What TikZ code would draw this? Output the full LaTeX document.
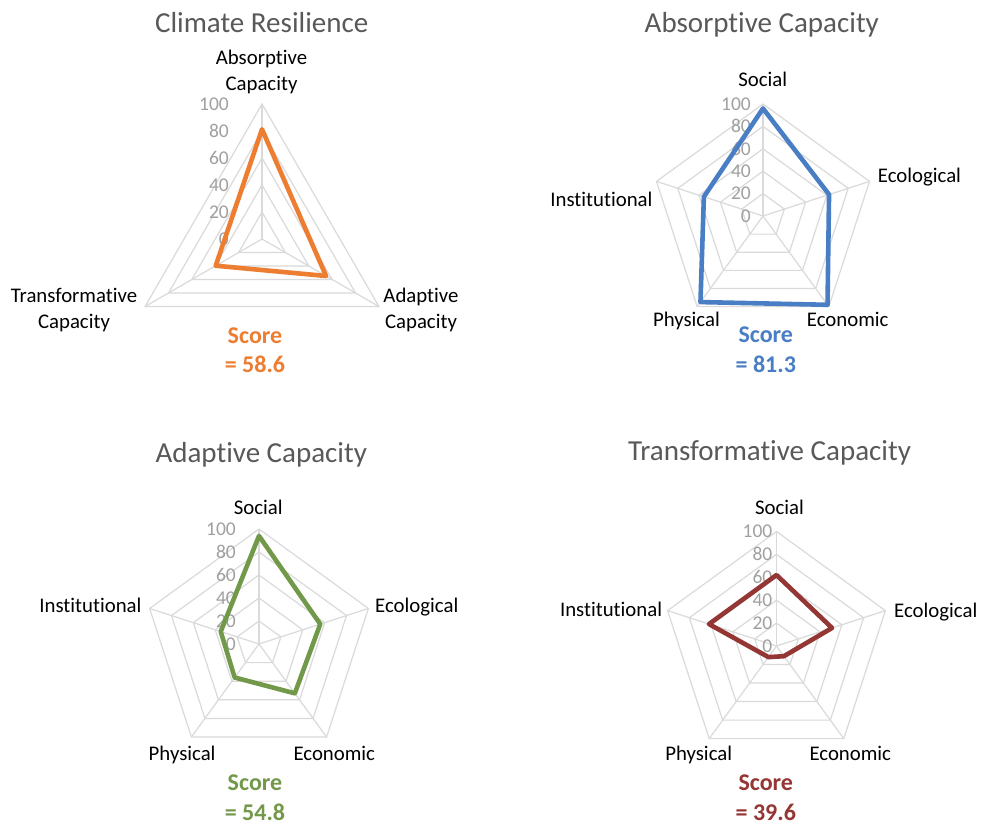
\documentclass[tikz,border=0pt]{standalone}
\usepackage{fontspec}
\setmainfont{Carlito}[Ligatures={NoCommon}]
\usetikzlibrary{positioning}
\definecolor{webgray}{HTML}{DADADA}
\definecolor{ticktext}{HTML}{A0A0A0}
\definecolor{titletext}{HTML}{595959}
\definecolor{crorange}{HTML}{ED7D31}
\definecolor{acblue}{HTML}{4A7EC4}
\definecolor{adgreen}{HTML}{72994A}
\definecolor{trred}{HTML}{943634}

\begin{document}
\begin{tikzpicture}[x=1pt,y=-1pt,
    web/.style={draw=webgray,line width=1.2pt},
    datline/.style={line width=4.6pt,line join=round},
    charttitle/.style={text=titletext,font=\fontsize{29}{35}\selectfont,inner sep=0pt,anchor=base},
    axlbl/.style={font=\fontsize{20.8}{26}\selectfont,inner sep=0pt},
    ticklbl/.style={text=ticktext,font=\fontsize{19.5}{23}\selectfont,inner sep=0pt,anchor=east},
    scorelbl/.style={font=\bfseries\fontsize{24}{29.5}\selectfont,inner sep=0pt,align=center,anchor=base}]
\fill[white] (0,0) rectangle (983,825);
\useasboundingbox (0,0) rectangle (983,825);

% Climate Resilience
\node[charttitle] (cr-title) at (261.7,32.3) {Climate Resilience};
\begin{scope}[shift={(262,239)}]
  \def\R{135}
  \foreach \k in {1,...,5}
    \draw[web] (-90:{\k*\R/5}) -- (30:{\k*\R/5}) -- (150:{\k*\R/5}) -- cycle;
  \foreach \a in {-90,30,150}
    \draw[web] (0,0) -- (\a:\R);
  \foreach \v in {0,20,...,100}
    \node[ticklbl] (cr-t\v) at (-33,{-\v*\R/100}) {\v};
  \draw[datline,crorange] (-90:{0.813*\R}) -- (30:{0.548*\R}) -- (150:{0.396*\R}) -- cycle;
\end{scope}
\node[axlbl,align=center,anchor=base] (cr-abs) at (261.5,90) {Absorptive\\Capacity};
\node[axlbl,align=center,anchor=base] (cr-adp) at (421,328.3) {Adaptive\\Capacity};
\node[axlbl,align=center,anchor=base] (cr-trf) at (74,328.3) {Transformative\\Capacity};
\node[scorelbl,text=crorange] (cr-score) at (255,372.5) {Score\\= 58.6};

% Absorptive Capacity
\node[charttitle] (ac-title) at (761.8,32.3) {Absorptive Capacity};
\begin{scope}[shift={(763,216)}]
  \def\R{112}
  \foreach \k in {1,...,5}
    \draw[web] (-90:{\k*\R/5}) -- (-18:{\k*\R/5}) -- (54:{\k*\R/5}) -- (126:{\k*\R/5}) -- (198:{\k*\R/5}) -- cycle;
  \foreach \a in {-90,-18,54,126,198}
    \draw[web] (0,0) -- (\a:\R);
  \foreach \v in {0,20,...,100}
    \node[ticklbl] (ac-t\v) at (-12,{-\v*\R/100}) {\v};
  \draw[datline,acblue] (-90:{0.96*\R}) -- (-18:{0.62*\R}) -- (54:{0.98*\R}) -- (126:{0.95*\R}) -- (198:{0.555*\R}) -- cycle;
\end{scope}
\node[axlbl,anchor=base] (ac-soc) at (762.8,86) {Social};
\node[axlbl,anchor=base west] (ac-eco) at (877.7,182.7) {Ecological};
\node[axlbl,anchor=base west] (ac-ecn) at (806.7,326.7) {Economic};
\node[axlbl,anchor=base east] (ac-phy) at (720,326.7) {Physical};
\node[axlbl,anchor=base east] (ac-ins) at (652.7,206.7) {Institutional};
\node[scorelbl,text=acblue] (ac-score) at (765.8,372.3) {Score\\= 81.3};

% Adaptive Capacity
\node[charttitle] (ad-title) at (261.3,462.7) {Adaptive Capacity};
\begin{scope}[shift={(259,644)}]
  \def\R{115}
  \foreach \k in {1,...,5}
    \draw[web] (-90:{\k*\R/5}) -- (-18:{\k*\R/5}) -- (54:{\k*\R/5}) -- (126:{\k*\R/5}) -- (198:{\k*\R/5}) -- cycle;
  \foreach \a in {-90,-18,54,126,198}
    \draw[web] (0,0) -- (\a:\R);
  \foreach \v in {0,20,...,100}
    \node[ticklbl] (ad-t\v) at (-23,{-\v*\R/100}) {\v};
  \draw[datline,adgreen] (-90:{0.94*\R}) -- (-18:{0.56*\R}) -- (54:{0.53*\R}) -- (126:{0.36*\R}) -- (198:{0.35*\R}) -- cycle;
\end{scope}
\node[axlbl,anchor=base] (ad-soc) at (258.3,514) {Social};
\node[axlbl,anchor=base west] (ad-eco) at (375,612.3) {Ecological};
\node[axlbl,anchor=base west] (ad-ecn) at (293.3,760) {Economic};
\node[axlbl,anchor=base east] (ad-phy) at (215.7,760) {Physical};
\node[axlbl,anchor=base east] (ad-ins) at (141.7,612.3) {Institutional};
\node[scorelbl,text=adgreen] (ad-score) at (255,820) {Score\\= 54.8};

% Transformative Capacity
\node[charttitle] (tr-title) at (769.5,460) {Transformative Capacity};
\begin{scope}[shift={(776.5,646)}]
  \def\R{114.5}
  \foreach \k in {1,...,5}
    \draw[web] (-90:{\k*\R/5}) -- (-18:{\k*\R/5}) -- (54:{\k*\R/5}) -- (126:{\k*\R/5}) -- (198:{\k*\R/5}) -- cycle;
  \foreach \a in {-90,-18,54,126,198}
    \draw[web] (0,0) -- (\a:\R);
  \foreach \v in {0,20,...,100}
    \node[ticklbl] (tr-t\v) at (-4,{-\v*\R/100}) {\v};
  \draw[datline,trred] (-90:{0.62*\R}) -- (-18:{0.51*\R}) -- (54:{0.11*\R}) -- (126:{0.12*\R}) -- (198:{0.62*\R}) -- cycle;
\end{scope}
\node[axlbl,anchor=base] (tr-soc) at (779.5,514) {Social};
\node[axlbl,anchor=base west] (tr-eco) at (894,617.3) {Ecological};
\node[axlbl,anchor=base west] (tr-ecn) at (809.3,760) {Economic};
\node[axlbl,anchor=base east] (tr-phy) at (732.3,760) {Physical};
\node[axlbl,anchor=base east] (tr-ins) at (662.3,616.7) {Institutional};
\node[scorelbl,text=trred] (tr-score) at (765.8,820) {Score\\= 39.6};
\end{tikzpicture}
\end{document}
